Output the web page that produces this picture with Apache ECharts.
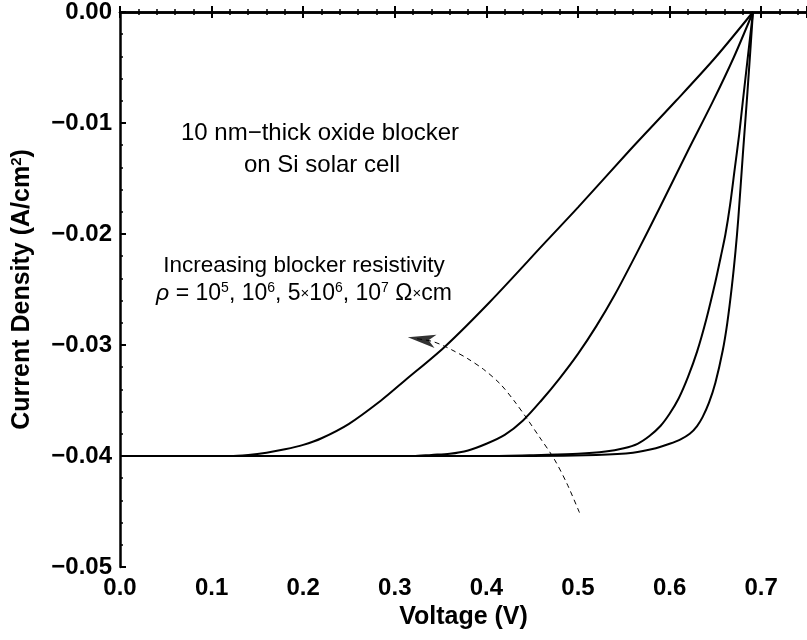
<!DOCTYPE html>
<html>
<head>
<meta charset="utf-8">
<script src="https://cdn.jsdelivr.net/npm/echarts@6/dist/echarts.min.js"></script>
<style>html,body{margin:0;padding:0;background:#fff;}#c{width:807px;height:640px;}</style>
</head>
<body>
<div id="c"></div>
<script>
// J-V curves (Voltage V, Current density A/cm^2)
const rho1e7 = [[0,-0.04],[0.10,-0.04],[0.12,-0.04],[0.14,-0.0399],[0.16,-0.0397],[0.18,-0.0394],[0.20,-0.0390],[0.22,-0.0384],[0.25,-0.0371],[0.285,-0.0350],[0.311,-0.0332],[0.354,-0.0302],[0.404,-0.0261],[0.466,-0.0206],[0.50,-0.0176],[0.556,-0.0125],[0.607,-0.0080],[0.65,-0.0041],[0.691,0]];
const rho5e6 = [[0,-0.04],[0.25,-0.04],[0.32,-0.04],[0.34,-0.0399],[0.36,-0.0398],[0.38,-0.0395],[0.40,-0.0389],[0.42,-0.0381],[0.44,-0.0368],[0.46,-0.0350],[0.48,-0.0330],[0.50,-0.0308],[0.52,-0.0283],[0.54,-0.0255],[0.563,-0.0219],[0.59,-0.0175],[0.62,-0.0125],[0.647,-0.0081],[0.67,-0.0041],[0.691,0]];
const rho1e6 = [[0,-0.04],[0.40,-0.04],[0.46,-0.0399],[0.50,-0.0398],[0.53,-0.0396],[0.55,-0.0393],[0.565,-0.0389],[0.578,-0.0382],[0.59,-0.0373],[0.60,-0.0362],[0.61,-0.0348],[0.62,-0.0329],[0.63,-0.0306],[0.64,-0.0277],[0.65,-0.0243],[0.656,-0.0220],[0.661,-0.0200],[0.666,-0.0174],[0.671,-0.0142],[0.676,-0.0110],[0.680,-0.0080],[0.691,0]];
const rho1e5 = [[0,-0.04],[0.45,-0.04],[0.52,-0.0399],[0.56,-0.0397],[0.585,-0.0393],[0.60,-0.0389],[0.612,-0.0385],[0.622,-0.0380],[0.630,-0.0373],[0.636,-0.0365],[0.643,-0.0352],[0.65,-0.0334],[0.658,-0.0305],[0.663,-0.0280],[0.668,-0.0247],[0.672,-0.0215],[0.675,-0.0186],[0.680,-0.0128],[0.685,-0.0072],[0.691,0]];
// dashed guide arrow path
const arrowPath = [[0.5016,-0.0451],[0.488,-0.0425],[0.4735,-0.0402],[0.458,-0.0383],[0.444,-0.0366],[0.43,-0.0350],[0.415,-0.0335],[0.397,-0.0322],[0.379,-0.0312],[0.366,-0.0306],[0.354,-0.0301],[0.342,-0.0297],[0.33,-0.0295],[0.32,-0.0294]];
const arrowHead = [[0.3142,-0.0293]];
const xTicks = [0,0.1,0.2,0.3,0.4,0.5,0.6,0.7];
const yTicks = [-0.05,-0.04,-0.03,-0.02,-0.01,0];

const FF = '"Liberation Sans", Arial, Helvetica, sans-serif';
const chart = echarts.init(document.getElementById('c'), null, {renderer:'canvas'});
const axisLine = {show:true, lineStyle:{color:'#000', width:2.5}};
const tick = {show:true, inside:true, length:6, lineStyle:{color:'#000', width:2}};
const minor = {show:true, splitNumber:5, length:3, lineStyle:{color:'#000', width:1.5}};
function curve(name, data){
  return {name, type:'line', data, showSymbol:false, symbol:'none', smooth:0.3,
    lineStyle:{color:'#000', width:2}, xAxisIndex:0, yAxisIndex:0, z:3};
}
chart.setOption({
  animation:false,
  backgroundColor:'#fff',
  grid:{left:120, top:10, width:692, bottom:73, containLabel:false},
  xAxis:[{
    type:'value', min:0, max:0.75, interval:0.1, position:'bottom',
    axisLine, axisTick:tick, minorTick:minor, splitLine:{show:false},
    axisLabel:{color:'#000', fontFamily:FF, fontWeight:'bold', fontSize:24, margin:9, showMaxLabel:false,
      formatter:v => xTicks.some(t=>Math.abs(t-v)<1e-9) ? v.toFixed(1) : ''},
    name:'Voltage (V)', nameLocation:'middle', nameGap:38,
    nameTextStyle:{color:'#000', fontFamily:FF, fontWeight:'bold', fontSize:25}
  },{
    type:'value', min:0, max:0.75, interval:0.1, position:'top',
    axisLine, axisTick:tick, minorTick:minor, splitLine:{show:false}, axisLabel:{show:false}
  }],
  yAxis:[{
    type:'value', min:-0.05, max:0, interval:0.01,
    axisLine, axisTick:tick, minorTick:minor, splitLine:{show:false},
    axisLabel:{color:'#000', fontFamily:FF, fontWeight:'bold', fontSize:24, margin:8,
      formatter:v => { const t = yTicks.find(t=>Math.abs(t-v)<1e-9); if(t===undefined) return ''; return (t<0?'\u2212':'') + Math.abs(t).toFixed(2); }},
    name:'Current Density (A/cm{sup|2})', nameLocation:'middle', nameGap:85, nameRotate:90,
    nameTextStyle:{color:'#000', fontFamily:FF, fontWeight:'bold', fontSize:25,
      rich:{sup:{fontFamily:FF, fontWeight:'bold', fontSize:15, color:'#000', verticalAlign:'bottom', padding:[0,0,11,0]}}}
  }],
  graphic:[
    {type:'text', x:320, y:133, style:{text:'10 nm\u2212thick oxide blocker', font:'24px '+FF, fill:'#000', align:'center', verticalAlign:'middle'}},
    {type:'text', x:322, y:165, style:{text:'on Si solar cell', font:'24px '+FF, fill:'#000', align:'center', verticalAlign:'middle'}},
    {type:'text', x:304, y:266, style:{text:'Increasing blocker resistivity', font:'22.5px '+FF, fill:'#000', align:'center', verticalAlign:'middle'}},
    {type:'text', x:304, y:294, style:{
      text:'{i|\u03C1} = 10{s|5}, 10{s|6}, 5{m|\u00D7}10{s|6}, 10{s|7} \u03A9{m|\u00D7}cm',
      font:'23px '+FF, fill:'#000', align:'center', verticalAlign:'middle',
      rich:{
        i:{fontFamily:FF, fontSize:23, fontStyle:'italic', fill:'#000'},
        s:{fontFamily:FF, fontSize:14, fill:'#000', verticalAlign:'bottom', padding:[0,0,11,0]},
        m:{fontFamily:FF, fontSize:15, fill:'#000'}
      }}}
  ],
  series:[
    curve('1e7', rho1e7),
    curve('5e6', rho5e6),
    curve('1e6', rho1e6),
    curve('1e5', rho1e5),
    {name:'guide', type:'line', data:arrowPath, showSymbol:false, symbol:'none', smooth:0.3,
      lineStyle:{color:'#000', width:1, type:[5,4]}, z:2},
    {name:'head', type:'scatter', data:arrowHead, symbol:'arrow', symbolSize:[10,28], symbolRotate:81.6,
      itemStyle:{color:'#000'}, z:4}
  ]
});
</script>
</body>
</html>
